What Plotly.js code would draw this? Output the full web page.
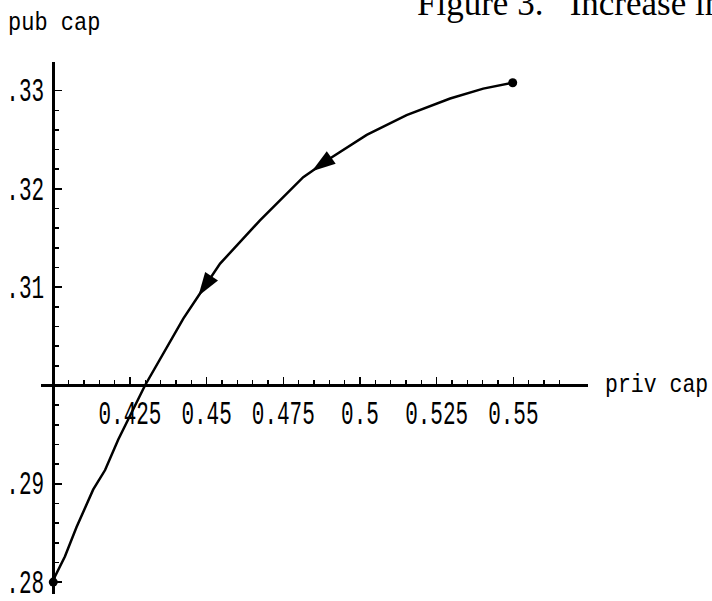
<!DOCTYPE html>
<html><head><meta charset="utf-8">
<script src="https://cdn.plot.ly/plotly-3.0.1.min.js"></script>
<style>html,body{margin:0;padding:0;background:#fff;} #chart{width:712px;height:601px;}</style>
</head><body><div id="chart"></div>
<script>
// Trajectory (private capital, public capital), from start point to end point
const privCap = [0.5498, 0.5402, 0.5294, 0.5152, 0.5022, 0.4902, 0.4843, 0.4815, 0.4674, 0.4544, 0.4473, 0.4424, 0.4299, 0.4212, 0.4169, 0.4130, 0.4076, 0.4038, 0.4006, 0.4000];
const pubCap  = [0.3308, 0.3302, 0.3292, 0.3275, 0.3255, 0.3231, 0.3218, 0.3212, 0.3168, 0.3124, 0.3091, 0.3068, 0.3000, 0.2945, 0.2914, 0.2894, 0.2856, 0.2826, 0.2806, 0.2800];
const arrowAt = [6, 10];   // indices of points carrying a direction arrow

// Ticks
const xTickVals = [0.425, 0.45, 0.475, 0.5, 0.525, 0.55];
const xTickText = ['0.425', '0.45', '0.475', '0.5', '0.525', '0.55'];
const xMinorVals = [0.405, 0.41, 0.415, 0.42, 0.43, 0.435, 0.44, 0.445, 0.455, 0.46, 0.465, 0.47, 0.48, 0.485, 0.49, 0.495, 0.505, 0.51, 0.515, 0.52, 0.53, 0.535, 0.54, 0.545, 0.555, 0.56, 0.565];
const yTickVals = [0.28, 0.29, 0.31, 0.32, 0.33];
const yTickText = ['.28', '.29', '.31', '.32', '.33'];
const yMinorVals = [0.282, 0.284, 0.286, 0.288, 0.292, 0.294, 0.296, 0.298, 0.302, 0.304, 0.306, 0.308, 0.312, 0.314, 0.316, 0.318, 0.322, 0.324, 0.326, 0.328];

const xTitle = 'priv cap';
const yTitle = 'pub cap';
const figTitle = 'Figure 3.\u00a0\u00a0\u00a0Increase in';

const lastIdx = privCap.length - 1;
const mono = 'Liberation Mono, Courier New, monospace';

const curve = {
  type: 'scatter', mode: 'lines', x: privCap, y: pubCap,
  line: {color: '#000', width: 2.5}, hoverinfo: 'skip', cliponaxis: false
};
const ends = {
  type: 'scatter', mode: 'markers',
  x: [privCap[0], privCap[lastIdx]], y: [pubCap[0], pubCap[lastIdx]],
  marker: {color: '#000', symbol: 'circle', size: 9, opacity: 1, line: {width: 0}},
  hoverinfo: 'skip', cliponaxis: false
};
const arrX = [], arrY = [], arrS = [];
arrowAt.forEach(i => { arrX.push(privCap[i - 1], privCap[i]); arrY.push(pubCap[i - 1], pubCap[i]); arrS.push(0, 25); });
const arrows = {
  type: 'scatter', mode: 'markers', x: arrX, y: arrY,
  marker: {color: '#000', symbol: 'arrow', size: arrS, angleref: 'previous', opacity: 1, line: {width: 0}},
  hoverinfo: 'skip', cliponaxis: false
};

const axisCommon = {
  showline: true, linecolor: '#000', linewidth: 3, showgrid: false, zeroline: false,
  ticks: 'inside', ticklen: 7, tickwidth: 1.5, tickcolor: '#000', tickmode: 'array',
  tickfont: {family: mono, size: 21, color: '#000'}, anchor: 'free', fixedrange: true
};

const layout = {
  width: 712, height: 601, margin: {l: 0, r: 0, t: 0, b: 0},
  paper_bgcolor: '#fff', plot_bgcolor: '#fff', showlegend: false,
  xaxis: Object.assign({}, axisCommon, {
    domain: [0.05758, 0.82584], range: [0.396, 0.57435], position: 0.3586,
    tickvals: xTickVals, ticktext: xTickText, ticklabelstandoff: 8,
    minor: {tickmode: 'array', tickvals: xMinorVals, ticks: 'inside', ticklen: 4, tickwidth: 1.5, tickcolor: '#000', showgrid: false}
  }),
  yaxis: Object.assign({}, axisCommon, {
    domain: [0.01165, 0.89734], range: [0.27879, 0.33294], position: 0.07491,
    tickvals: yTickVals, ticktext: yTickText, ticklabelstandoff: 4,
    minor: {tickmode: 'array', tickvals: yMinorVals, ticks: 'inside', ticklen: 4, tickwidth: 1.5, tickcolor: '#000', showgrid: false}
  }),
  annotations: [
    {xref: 'paper', yref: 'paper', x: 0.008, y: 0.9612, xanchor: 'left', yanchor: 'middle', showarrow: false,
     text: yTitle, font: {family: mono, size: 22, color: '#000'}},
    {xref: 'paper', yref: 'paper', x: 0.8475, y: 0.3594, xanchor: 'left', yanchor: 'middle', showarrow: false,
     text: xTitle, font: {family: mono, size: 21.5, color: '#000'}},
    {xref: 'paper', yref: 'paper', x: 0.5825, y: 0.995, xanchor: 'left', yanchor: 'middle', showarrow: false,
     text: figTitle, font: {family: 'Liberation Serif, Times New Roman, serif', size: 35, color: '#000'}}
  ]
};

// stretch glyphs vertically about their own centre (reference uses a tall, narrow typeface)
function stretch(els, s) {
  els.forEach(el => {
    const b = el.getBBox();
    const cy = b.y + b.height / 2;
    const t = el.getAttribute('transform') || '';
    el.setAttribute('transform', t + ' translate(0,' + cy + ') scale(1,' + s + ') translate(0,' + (-cy) + ')');
  });
}

Plotly.newPlot('chart', [curve, ends, arrows], layout, {staticPlot: true, displayModeBar: false}).then(() => {
  stretch(Array.from(document.querySelectorAll('#chart .xtick text, #chart .ytick text')), 1.6);
  const ann = Array.from(document.querySelectorAll('#chart .annotation-text'));
  stretch(ann.slice(0, 2), 1.2);
});
</script>
</body></html>
